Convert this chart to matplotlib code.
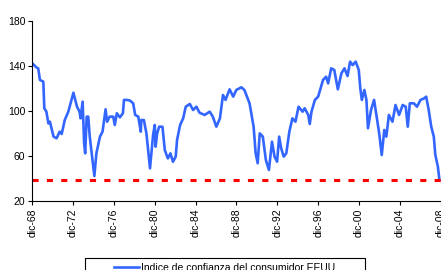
import matplotlib.pyplot as plt
from matplotlib.patches import Rectangle

plt.rcParams['font.family'] = ['Liberation Sans', 'DejaVu Sans']

# Indice de confianza del consumidor EEUU
years = [1968.92, 1969.35, 1969.5, 1969.67, 1970.0, 1970.1, 1970.3, 1970.5, 1970.65, 1971.0,
         1971.3, 1971.6, 1971.8, 1972.1, 1972.45, 1972.95, 1973.3, 1973.55, 1973.65, 1973.85,
         1974.0, 1974.1, 1974.25, 1974.4, 1974.55, 1975.0, 1975.2, 1975.55, 1975.8, 1976.1,
         1976.25, 1976.5, 1976.85, 1977.0, 1977.2, 1977.5, 1977.8, 1977.9, 1978.2, 1978.5,
         1978.8, 1979.0, 1979.3, 1979.55, 1979.6, 1979.85, 1980.1, 1980.3, 1980.45, 1980.76,
         1980.92, 1981.0, 1981.15, 1981.35, 1981.67, 1981.9, 1982.2, 1982.45, 1982.7, 1982.97,
         1983.1, 1983.4, 1983.7, 1983.95, 1984.35, 1984.67, 1985.0, 1985.3, 1985.8, 1986.3,
         1986.6, 1986.95, 1987.3, 1987.6, 1987.85, 1988.25, 1988.6, 1988.9, 1989.4, 1989.7,
         1990.2, 1990.6, 1990.8, 1991.0, 1991.2, 1991.5, 1991.8, 1992.1, 1992.4, 1992.65,
         1992.9, 1993.1, 1993.3, 1993.55, 1993.8, 1994.1, 1994.4, 1994.7, 1995.0, 1995.4,
         1995.6, 1995.95, 1996.1, 1996.27, 1996.6, 1996.92, 1997.4, 1997.7, 1997.9, 1998.2,
         1998.5, 1998.85, 1999.2, 1999.5, 1999.8, 2000.05, 2000.3, 2000.6, 2000.9, 2001.05,
         2001.2, 2001.45, 2001.65, 2001.8, 2002.1, 2002.4, 2002.65, 2002.9, 2003.15, 2003.4,
         2003.6, 2003.85, 2004.2, 2004.5, 2004.85, 2005.2, 2005.5, 2005.7, 2005.9, 2006.3,
         2006.6, 2006.95, 2007.3, 2007.5, 2007.75, 2008.0, 2008.25, 2008.4, 2008.65, 2008.8]
values = [142.2, 138.4, 137.8, 127.5, 126, 102.4, 99.4, 89, 90.5, 77.3,
          75.8, 81.7, 79.6, 92, 99.4, 116.2, 103.8, 99.4, 93.5, 108.3,
          71.4, 62.5, 95, 95, 77.3, 42.4, 62.5, 77.3, 81.7, 101.5,
          90.5, 95, 95, 87.6, 98, 94.4, 98, 109.8, 109.8, 109.2,
          106.8, 96.5, 95, 81.7, 92, 92, 80.2, 62.5, 49.2, 79.3,
          87.6, 68.4, 80.2, 86.1, 86.1, 65.4, 58, 62.5, 55, 59.6,
          74.3, 87.6, 93.5, 103.8, 106.2, 100.9, 103.8, 98.5, 96.5, 99.4,
          95, 86.1, 93.5, 114.2, 109.8, 119.2, 112.7, 118.6, 121, 118.6,
          106.8, 86.1, 62.5, 53.7, 80.2, 77.3, 56.6, 47.8, 72.8, 59.6,
          55.1, 77.3, 66.9, 59.6, 62.5, 81.7, 93.5, 90.5, 103.8, 99.4,
          102.4, 96.5, 88.5, 99.4, 109.8, 112.7, 127.5, 130.4, 124.5, 137.8,
          136.3, 119.2, 133.4, 137.8, 131, 143.7, 140.7, 143.7, 136.3, 120.1,
          109.8, 118.6, 109.8, 84.7, 100.9, 109.8, 95, 80.2, 61, 83.2,
          77.3, 96.5, 90.5, 105.3, 96.5, 105.3, 103.8, 86.1, 106.8, 106.8,
          103.8, 109.8, 111.2, 112.7, 100.9, 86.1, 77.3, 61, 50.7, 38.9]

umbral = 39
tick_years = [1968.92 + 4 * i for i in range(11)]
tick_labels = ['dic-68', 'dic-72', 'dic-76', 'dic-80', 'dic-84', 'dic-88',
               'dic-92', 'dic-96', 'dic-00', 'dic-04', 'dic-08']

fig = plt.figure(figsize=(4.41, 2.70), dpi=100)
ax = fig.add_axes([0.0732, 0.2544, 0.951, 0.669])

ax.plot(years, values, color='#3366FF', lw=1.9,
        label='Indice de confianza del consumidor EEUU')
ax.axhline(umbral, color='#FF0000', lw=2.2, ls=(0, (2, 2.7)))

ax.set_xlim(1968.92, 2010.0)
ax.set_ylim(20, 180)
ax.set_yticks([20, 60, 100, 140, 180])
ax.set_xticks(tick_years)
ax.set_xticklabels(tick_labels, rotation=90)
ax.tick_params(labelsize=7.5, length=3, width=0.8, pad=2)
for s in ['top', 'right']:
    ax.spines[s].set_visible(False)

# caja de la leyenda (mas ancha que el texto, como en el original)
fig.patches.append(Rectangle((85 / 441, -0.05), 280 / 441, 12 / 270 + 0.05,
                             transform=fig.transFigure, fill=False,
                             edgecolor='black', lw=0.8))
fig.legend(loc='upper center', bbox_to_anchor=(0.51, 0.05), fontsize=7.5,
           frameon=False, handlelength=2.4, handletextpad=0.2, borderpad=0.1)

fig.savefig('out.png', dpi=100)
